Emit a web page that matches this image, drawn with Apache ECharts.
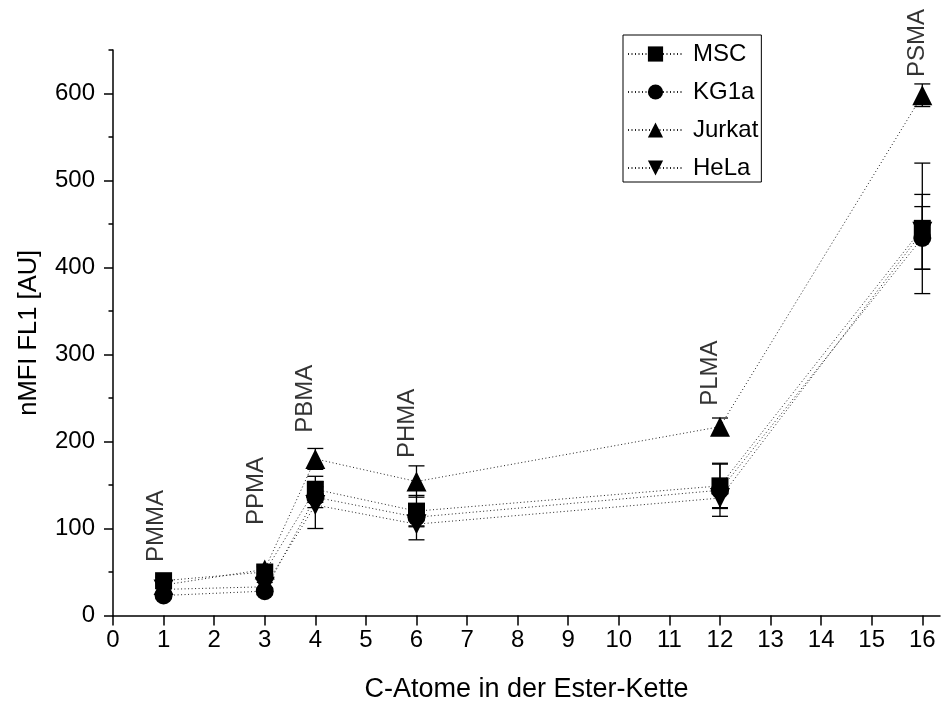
<!DOCTYPE html>
<html><head><meta charset="utf-8">
<script src="https://cdn.jsdelivr.net/npm/echarts@6/dist/echarts.min.js"></script>
<style>html,body{margin:0;padding:0;background:#fff}#c{width:943px;height:704px}</style>
</head><body><div id="c"></div>
<script>
// ---- data ----
const carbonAtoms = [1, 3, 4, 6, 12, 16];
const polymerNames = ['PMMA', 'PPMA', 'PBMA', 'PHMA', 'PLMA', 'PSMA'];
const mscValues    = [40, 50, 145, 120, 149, 445];
const mscErrors    = [4, 6, 15, 18, 26, 75];
const kg1aValues   = [23, 28, 136, 113, 144, 434];
const kg1aErrors   = [3, 4, 12, 10, 30, 36];
const jurkatValues = [35, 53, 180, 154, 217, 598];
const jurkatErrors = [4, 5, 12, 18, 10, 13];
const helaValues   = [30, 33, 127, 105, 135, 441];
const helaErrors   = [4, 5, 27, 18, 11, 43];
const labelAnchorX = [0.85, 2.83, 3.81, 5.81, 11.82, 15.9];
const labelAnchorY = [61.5, 104, 210, 181, 241, 619];
const xTickValues  = [0,1,2,3,4,5,6,7,8,9,10,11,12,13,14,15,16];
const yTickValues  = [0,100,200,300,400,500,600];
const yMinorTicks  = [50,150,250,350,450,550,650];

const FONT = "'Liberation Sans', Arial, sans-serif";
const seriesDefs = [
  {name: 'MSC', values: mscValues, errors: mscErrors, symbol: 'rect', size: 17},
  {name: 'KG1a', values: kg1aValues, errors: kg1aErrors, symbol: 'circle', size: 18},
  {name: 'Jurkat', values: jurkatValues, errors: jurkatErrors, symbol: 'triangle', size: 20},
  {name: 'HeLa', values: helaValues, errors: helaErrors, symbol: 'path://M0,0 L10,0 L5,9 Z', size: 20}
];

function errRender(params, api) {
  const x = api.value(0), lo = api.value(1), hi = api.value(2);
  const a = api.coord([x, lo]), b = api.coord([x, hi]);
  const w = 8;
  const st = {stroke: '#000', lineWidth: 1.3};
  return {type: 'group', children: [
    {type: 'line', shape: {x1: a[0], y1: a[1], x2: b[0], y2: b[1]}, style: st},
    {type: 'line', shape: {x1: a[0]-w, y1: a[1], x2: a[0]+w, y2: a[1]}, style: st},
    {type: 'line', shape: {x1: b[0]-w, y1: b[1], x2: b[0]+w, y2: b[1]}, style: st}
  ]};
}

const series = [];
seriesDefs.forEach(d => {
  series.push({
    name: d.name + ' err', type: 'custom', renderItem: errRender, silent: true,
    encode: {x: 0, y: [1, 2]}, z: 4,
    data: carbonAtoms.map((x, i) => [x, d.values[i] - d.errors[i], d.values[i] + d.errors[i]])
  });
});
seriesDefs.slice().reverse().forEach(d => {
  series.push({
    name: d.name, type: 'line', symbol: d.symbol, symbolSize: d.size,
    data: carbonAtoms.map((x, i) => [x, d.values[i]]),
    lineStyle: {type: [1, 2.5], width: 1, color: '#222'},
    itemStyle: {color: '#000'}, z: 3, animation: false
  });
});
series.push({
  type: 'scatter', symbolSize: 1, itemStyle: {color: 'rgba(0,0,0,0)'}, silent: true,
  data: labelAnchorX.map((x, i) => [x, labelAnchorY[i]]),
  label: {show: true, position: 'inside', rotate: 90, align: 'left', verticalAlign: 'middle',
    formatter: p => polymerNames[p.dataIndex], fontSize: 24, color: '#000', fontFamily: FONT}
});

const chart = echarts.init(document.getElementById('c'));
chart.setOption({
  animation: false,
  backgroundColor: '#fff',
  textStyle: {fontFamily: FONT},
  grid: {left: 113, right: 3, top: 50, bottom: 88.5, containLabel: false, outerBoundsMode: 'none'},
  legend: {
    data: ['MSC', 'KG1a', 'Jurkat', 'HeLa'], orient: 'vertical', left: 623, top: 35,
    itemWidth: 55, itemHeight: 19, itemGap: 14, padding: [7, 3, 2, 4],
    borderColor: '#000', borderWidth: 1,
    textStyle: {fontSize: 24, color: '#000', fontFamily: FONT, padding: [0, 0, 0, 5]}
  },
  xAxis: {
    type: 'value', min: 0, max: 16.35,
    name: 'C-Atome in der Ester-Kette', nameLocation: 'middle', nameGap: 61,
    nameTextStyle: {fontSize: 27, color: '#000', fontFamily: FONT},
    axisLine: {show: true, onZero: false, lineStyle: {color: '#000', width: 1.5}},
    axisTick: {show: true, customValues: xTickValues, length: 10, lineStyle: {color: '#000', width: 1.5}},
    axisLabel: {customValues: xTickValues, fontSize: 24, color: '#000', margin: 13, fontFamily: FONT},
    splitLine: {show: false}
  },
  yAxis: [{
    type: 'value', min: 0, max: 650,
    name: 'nMFI FL1 [AU]', nameLocation: 'middle', nameGap: 71, nameRotate: 90,
    nameTextStyle: {fontSize: 25.5, color: '#000', fontFamily: FONT},
    axisLine: {show: true, onZero: false, lineStyle: {color: '#000', width: 1.5}},
    axisTick: {show: true, customValues: yTickValues, length: 9, lineStyle: {color: '#000', width: 1.5}},
    axisLabel: {customValues: yTickValues, fontSize: 24, color: '#000', margin: 18, fontFamily: FONT},
    splitLine: {show: false}
  }, {
    type: 'value', min: 0, max: 650, position: 'left',
    axisLine: {show: false},
    axisTick: {show: true, customValues: yMinorTicks, length: 4.5, lineStyle: {color: '#000', width: 1.5}},
    axisLabel: {show: false}, splitLine: {show: false}
  }],
  series: series
});
</script></body></html>
